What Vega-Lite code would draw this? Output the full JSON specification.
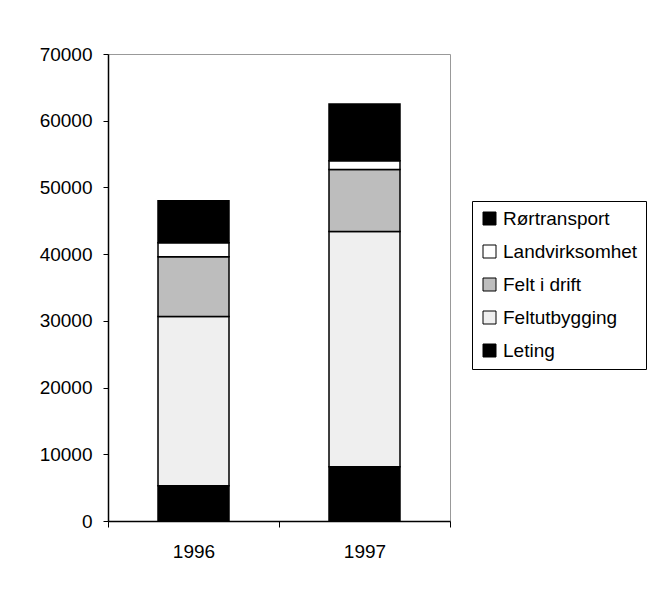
{
  "$schema": "https://vega.github.io/schema/vega-lite/v6.json",
  "width": 342,
  "height": 467,
  "autosize": {"type": "none"},
  "padding": {"left": 108, "top": 54, "right": 209, "bottom": 75},
  "background": "white",
  "config": {
    "font": "Liberation Sans",
    "view": {"stroke": "#999999", "strokeWidth": 1}
  },
  "data": {
    "values": [
      {"year": "1996", "category": "Leting", "k": 1, "value": 5300},
      {"year": "1996", "category": "Feltutbygging", "k": 2, "value": 25350},
      {"year": "1996", "category": "Felt i drift", "k": 3, "value": 8950},
      {"year": "1996", "category": "Landvirksomhet", "k": 4, "value": 2100},
      {"year": "1996", "category": "Rørtransport", "k": 5, "value": 6300},
      {"year": "1997", "category": "Leting", "k": 1, "value": 8150},
      {"year": "1997", "category": "Feltutbygging", "k": 2, "value": 35250},
      {"year": "1997", "category": "Felt i drift", "k": 3, "value": 9300},
      {"year": "1997", "category": "Landvirksomhet", "k": 4, "value": 1300},
      {"year": "1997", "category": "Rørtransport", "k": 5, "value": 8500}
    ]
  },
  "mark": {"type": "bar", "width": 71, "stroke": "black", "strokeWidth": 1.5},
  "encoding": {
    "x": {
      "field": "year",
      "type": "nominal",
      "scale": {"paddingInner": 0, "paddingOuter": 0},
      "axis": {
        "title": null,
        "labelAngle": 0,
        "labelFontSize": 19,
        "labelColor": "black",
        "domainColor": "black",
        "domainWidth": 1.5,
        "tickColor": "black",
        "tickBand": "extent",
        "tickSize": 6,
        "labelPadding": 15
      }
    },
    "y": {
      "field": "value",
      "type": "quantitative",
      "stack": "zero",
      "scale": {"domain": [0, 70000], "nice": false},
      "axis": {
        "title": null,
        "values": [0, 10000, 20000, 30000, 40000, 50000, 60000, 70000],
        "format": "d",
        "grid": false,
        "labelFontSize": 19,
        "labelColor": "black",
        "domainColor": "black",
        "domainWidth": 1.5,
        "tickColor": "black",
        "tickSize": 5,
        "labelPadding": 11
      }
    },
    "color": {
      "field": "category",
      "type": "nominal",
      "scale": {
        "domain": ["Rørtransport", "Landvirksomhet", "Felt i drift", "Feltutbygging", "Leting"],
        "range": ["#000000", "#ffffff", "#bdbdbd", "#efefef", "#000000"]
      },
      "legend": {
        "title": null,
        "orient": "none",
        "legendX": 364,
        "legendY": 147,
        "strokeColor": "black",
        "fillColor": "white",
        "padding": 8,
        "rowPadding": 13,
        "symbolType": "square",
        "symbolSize": 169,
        "symbolStrokeColor": "black",
        "symbolStrokeWidth": 1,
        "labelFontSize": 19,
        "labelColor": "black",
        "labelOffset": 4,
        "labelLimit": 200
      }
    },
    "order": {"field": "k", "type": "quantitative", "sort": "ascending"}
  }
}
